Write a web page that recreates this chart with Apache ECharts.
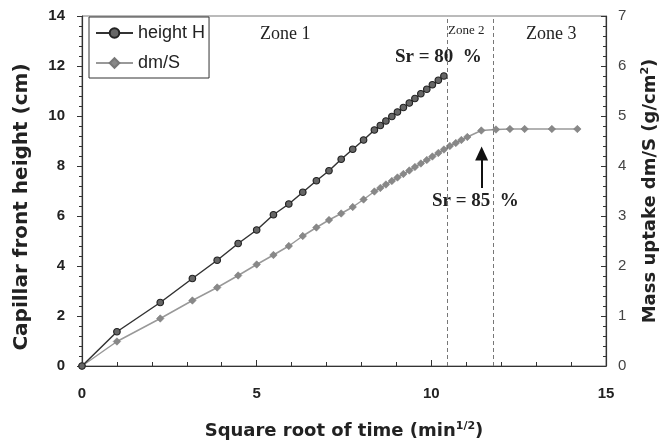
<!DOCTYPE html>
<html>
<head>
<meta charset="utf-8">
<script src="https://cdn.jsdelivr.net/npm/echarts@6/dist/echarts.min.js"></script>
<style>
  html, body { margin: 0; padding: 0; background: #fff; }
  #chart { width: 662px; height: 445px; }
</style>
</head>
<body>
<div id="chart"></div>
<script>
// square root of time (min^1/2) for the height series
var timeH = [0, 1, 2.24, 3.16, 3.87, 4.47, 5, 5.48, 5.92, 6.32, 6.71, 7.07, 7.42, 7.75, 8.06, 8.37,
  8.54, 8.70, 8.87, 9.03, 9.20, 9.37, 9.53, 9.70, 9.87, 10.03, 10.20, 10.36];
// capillary front height (cm)
var heightH = [0, 1.37, 2.54, 3.5, 4.23, 4.9, 5.44, 6.05, 6.48, 6.95, 7.41, 7.81, 8.27, 8.67, 9.04, 9.44,
  9.62, 9.80, 9.98, 10.16, 10.34, 10.52, 10.70, 10.89, 11.07, 11.25, 11.43, 11.6];

// square root of time for the mass uptake series
var timeM = [0, 1, 2.24, 3.16, 3.87, 4.47, 5, 5.48, 5.92, 6.32, 6.71, 7.07, 7.42, 7.75, 8.06, 8.37,
  8.54, 8.70, 8.87, 9.03, 9.20, 9.37, 9.53, 9.70, 9.87, 10.03, 10.20, 10.36, 10.53, 10.70, 10.86, 11.03,
  11.43, 11.85, 12.25, 12.67, 13.45, 14.18];
// mass uptake dm/S (g/cm2)
var massM = [0, 0.49, 0.95, 1.31, 1.57, 1.81, 2.03, 2.22, 2.40, 2.60, 2.77, 2.92, 3.05, 3.18, 3.33, 3.49,
  3.56, 3.63, 3.70, 3.77, 3.84, 3.91, 3.98, 4.05, 4.12, 4.19, 4.26, 4.33, 4.40, 4.46, 4.52, 4.58,
  4.71, 4.73, 4.74, 4.74, 4.74, 4.74];

// zone limits on the time axis
var zoneLimits = [10.45, 11.77];
// arrow under Sr = 85 % (x, from y, to y on the right axis)
var arrowAt = [11.44, 3.56, 4.25];

var sans = '"Liberation Sans", Arial, sans-serif';
var titleFont = '"DejaVu Sans", sans-serif';
var serif = '"Liberation Serif", "Times New Roman", serif';

function pairs(xs, ys) {
  return xs.map(function (x, i) { return [x, ys[i]]; });
}

var supStyle = { fontFamily: titleFont, fontSize: 11, fontWeight: 'bold', color: '#222', verticalAlign: 'top', padding: [0, 0, 9, 0] };

var myChart = echarts.init(document.getElementById('chart'));

var option = {
  animation: false,
  backgroundColor: '#fff',
  grid: {
    left: 82, right: 56, top: 16, bottom: 79,
    outerBoundsMode: 'none',
    containLabel: false,
    show: true, borderColor: '#777', borderWidth: 1
  },
  legend: {
    orient: 'vertical',
    left: 89, top: 17,
    padding: [7, 4, 6, 6],
    itemGap: 12,
    itemWidth: 37, itemHeight: 12,
    borderColor: '#333', borderWidth: 1,
    backgroundColor: '#fff',
    textStyle: { fontFamily: sans, fontSize: 18, color: '#222' },
    data: ['height H', 'dm/S']
  },
  xAxis: {
    type: 'value',
    min: 0, max: 15, interval: 5,
    name: 'Square root of time (min{sup|1/2})',
    nameLocation: 'middle',
    nameGap: 55,
    nameTextStyle: {
      fontFamily: titleFont, fontSize: 18, fontWeight: 'bold', color: '#222',
      rich: { sup: supStyle }
    },
    axisLine: { lineStyle: { color: '#333', width: 1.2 } },
    axisTick: { inside: true, length: 6, lineStyle: { color: '#333' } },
    minorTick: { show: true, splitNumber: 5, length: 4, lineStyle: { color: '#333' } },
    axisLabel: { fontFamily: sans, fontSize: 15, fontWeight: 'bold', color: '#222', margin: 20 },
    splitLine: { show: false }
  },
  yAxis: [{
    type: 'value',
    min: 0, max: 14, interval: 2,
    position: 'left',
    name: 'Capillar front height (cm)',
    nameLocation: 'middle',
    nameRotate: 90,
    nameGap: 50,
    nameTextStyle: { fontFamily: titleFont, fontSize: 20, fontWeight: 'bold', color: '#222', padding: [0, 32, 0, 0] },
    axisLine: { show: true, lineStyle: { color: '#333', width: 1.2 } },
    axisTick: { show: true, inside: false, length: 5, lineStyle: { color: '#333' } },
    minorTick: { show: true, splitNumber: 5, length: 3, lineStyle: { color: '#333' } },
    axisLabel: { fontFamily: sans, fontSize: 15, fontWeight: 'bold', color: '#222', margin: 17 },
    splitLine: { show: false }
  }, {
    type: 'value',
    min: 0, max: 7, interval: 1,
    position: 'right',
    name: 'Mass uptake dm/S (g/cm{sup|2})',
    nameLocation: 'middle',
    nameRotate: 90,
    nameGap: 34,
    nameTextStyle: {
      fontFamily: titleFont, fontSize: 18, fontWeight: 'bold', color: '#222',
      rich: { sup: supStyle }
    },
    axisLine: { show: true, lineStyle: { color: '#333', width: 1.2 } },
    axisTick: { show: true, inside: true, length: 5, lineStyle: { color: '#333' } },
    minorTick: { show: true, splitNumber: 5, length: 3, lineStyle: { color: '#333' } },
    axisLabel: { fontFamily: sans, fontSize: 15, color: '#444', margin: 12 },
    splitLine: { show: false }
  }],
  series: [{
    name: 'height H',
    type: 'line',
    yAxisIndex: 0,
    data: pairs(timeH, heightH),
    symbol: 'circle',
    symbolSize: 6.5,
    lineStyle: { color: '#333', width: 1.5 },
    itemStyle: { color: '#666', borderColor: '#222', borderWidth: 1.2 },
    z: 3
  }, {
    name: 'dm/S',
    type: 'line',
    yAxisIndex: 1,
    data: pairs(timeM, massM),
    symbol: 'diamond',
    symbolSize: 7.5,
    lineStyle: { color: '#999', width: 1.5 },
    itemStyle: { color: '#888', borderColor: '#777', borderWidth: 0.5 },
    z: 2,
    markLine: {
      silent: true,
      symbol: ['none', 'none'],
      label: { show: false },
      lineStyle: { color: '#777', type: [4, 3], width: 1 },
      data: [
        [{ coord: [zoneLimits[0], 0] }, { coord: [zoneLimits[0], 7] }],
        [{ coord: [zoneLimits[1], 0] }, { coord: [zoneLimits[1], 7] }],
        [{ coord: [arrowAt[0], arrowAt[1]], lineStyle: { color: '#111', type: 'solid', width: 2 } },
         { coord: [arrowAt[0], arrowAt[2]], symbol: 'triangle', symbolSize: [13, 14] }]
      ]
    }
  }],
  graphic: [
    { type: 'text', left: 260, top: 25, style: { text: 'Zone 1', font: '18px ' + serif, fill: '#222' } },
    { type: 'text', left: 448, top: 24, style: { text: 'Zone 2', font: '13px ' + serif, fill: '#222' } },
    { type: 'text', left: 526, top: 25, style: { text: 'Zone 3', font: '18px ' + serif, fill: '#222' } },
    { type: 'text', left: 395, top: 48, style: { text: 'Sr = 80  %', font: 'bold 19px ' + serif, fill: '#222' } },
    { type: 'text', left: 432, top: 192, style: { text: 'Sr = 85  %', font: 'bold 19px ' + serif, fill: '#222' } }
  ]
};

myChart.setOption(option);
</script>
</body>
</html>
